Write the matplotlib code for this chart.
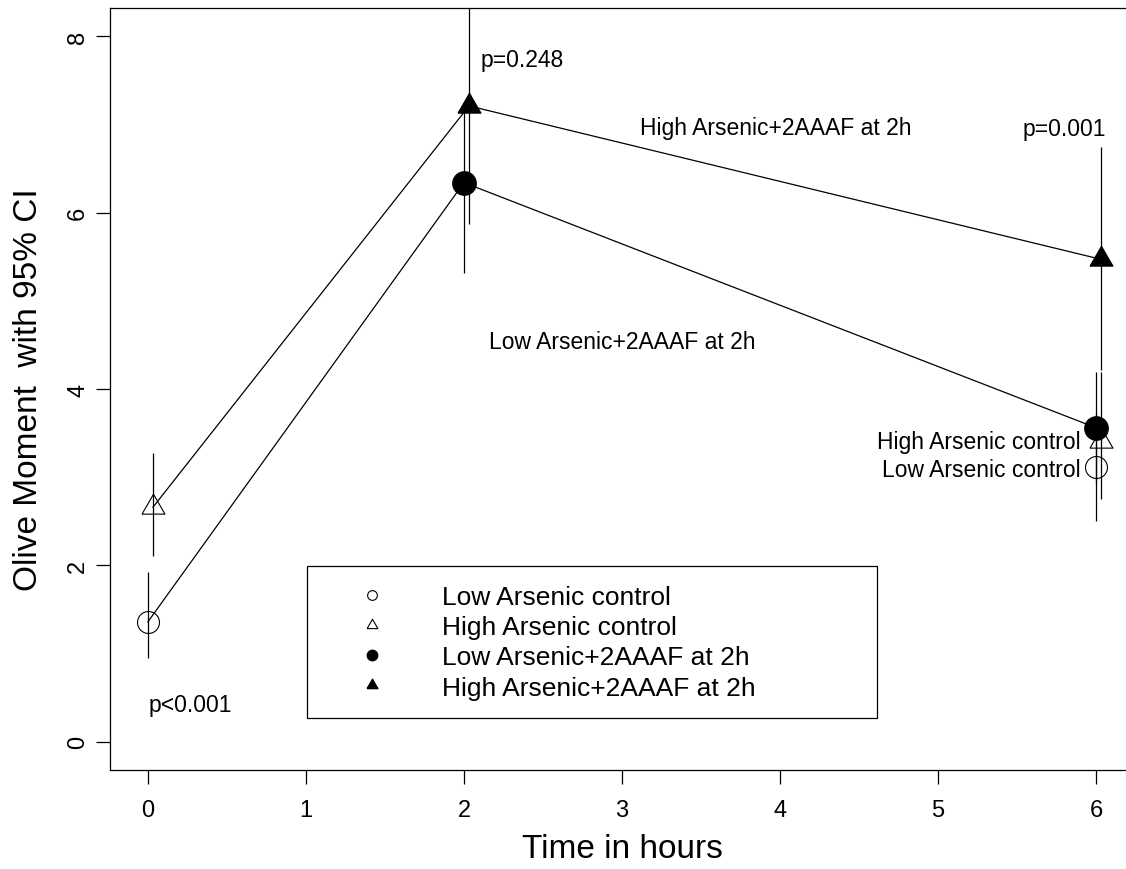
import matplotlib
matplotlib.use("Agg")
import matplotlib.pyplot as plt
from matplotlib.lines import Line2D
from matplotlib.patches import Rectangle

plt.rcParams['font.family'] = ['Liberation Sans', 'DejaVu Sans']

# ---- data ----
time_control = [0, 6]
time_treated = [2, 6]

low_control = [1.36, 3.11]
low_control_lo = [0.95, 2.50]
low_control_hi = [1.93, 3.72]

high_control = [2.66, 3.41]
high_control_lo = [2.11, 2.75]
high_control_hi = [3.27, 4.19]

low_2aaaf = [6.34, 3.56]
low_2aaaf_lo = [5.32, 2.93]
low_2aaaf_hi = [7.15, 4.19]

high_2aaaf = [7.21, 5.47]
high_2aaaf_lo = [5.87, 4.22]
high_2aaaf_hi = [8.55, 6.74]

x_ticks = [0, 1, 2, 3, 4, 5, 6]
y_ticks = [0, 2, 4, 6, 8]
labels = ["Low Arsenic control", "High Arsenic control",
          "Low Arsenic+2AAAF at 2h", "High Arsenic+2AAAF at 2h"]

# ---- style ----
dodge = 0.032
tri = [(-1.0, -0.5774), (1.0, -0.5774), (0.0, 1.1547), (-1.0, -0.5774)]
lw = 0.9

fig = plt.figure(figsize=(11.26, 8.70), dpi=100)
ax = fig.add_axes([110/1126, 1 - 771/870, 1024/1126, 762/870])

# connecting lines
ax.plot([time_control[0]] + time_treated, [low_control[0]] + low_2aaaf,
        color='black', lw=lw, zorder=2)
ax.plot([t + dodge for t in [time_control[0]] + time_treated],
        [high_control[0]] + high_2aaaf, color='black', lw=lw, zorder=2)

# error bars
ax.vlines(time_control, low_control_lo, low_control_hi, color='black', lw=lw, zorder=2)
ax.vlines([t + dodge for t in time_control], high_control_lo, high_control_hi,
          color='black', lw=lw, zorder=2)
ax.vlines(time_treated, low_2aaaf_lo, low_2aaaf_hi, color='black', lw=lw, zorder=2)
ax.vlines([t + dodge for t in time_treated], high_2aaaf_lo, high_2aaaf_hi,
          color='black', lw=lw, zorder=2)

# points
ax.plot(time_control, low_control, ls='none', marker='o', ms=15.8,
        mfc='none', mec='black', mew=0.8, zorder=3)
ax.plot([t + dodge for t in time_control], high_control, ls='none', marker=tri,
        ms=19.1, mfc='none', mec='black', mew=0.8, zorder=3)
ax.plot(time_treated, low_2aaaf, ls='none', marker='o', ms=17.0,
        mfc='black', mec='black', mew=0.8, zorder=3)
ax.plot([t + dodge for t in time_treated], high_2aaaf, ls='none', marker=tri,
        ms=19.1, mfc='black', mec='black', mew=0.8, zorder=3)

# annotations
fs_ann = 16.5
ax.text(0.27, 0.42, "p<0.001", fontsize=fs_ann, ha='center', va='center')
ax.text(2.37, 7.74, "p=0.248", fontsize=fs_ann, ha='center', va='center')
ax.text(5.80, 6.95, "p=0.001", fontsize=fs_ann, ha='center', va='center')
ax.text(3.97, 6.96, "High Arsenic+2AAAF at 2h", fontsize=fs_ann, ha='center', va='center')
ax.text(3.00, 4.54, "Low Arsenic+2AAAF at 2h", fontsize=fs_ann, ha='center', va='center')
ax.text(5.905, 3.41, "High Arsenic control", fontsize=fs_ann, ha='right', va='center')
ax.text(5.905, 3.09, "Low Arsenic control", fontsize=fs_ann, ha='right', va='center')

# axes
ax.set_xlim(-0.24, 6.24)
ax.set_ylim(-0.32, 8.32)
ax.set_xticks(x_ticks)
ax.set_yticks(y_ticks)
ax.tick_params(axis='both', direction='out', length=10, width=0.9, labelsize=17)
ax.tick_params(axis='x', pad=11)
ax.tick_params(axis='y', pad=5)
for lab in ax.get_yticklabels():
    lab.set_rotation(90)
    lab.set_va('center')
for s in ax.spines.values():
    s.set_linewidth(0.9)
ax.spines['right'].set_visible(False)

ax.set_xlabel("Time in hours", fontsize=24, va='center')
ax.xaxis.set_label_coords(0.5, (771 - 850) / 762)
ax.set_ylabel("Olive Moment  with 95% CI", fontsize=24, va='center')
ax.yaxis.set_label_coords((29 - 110) / 1024, 0.5)

# legend
handles = [
    Line2D([], [], ls='none', marker='o', ms=7, mfc='none', mec='black', mew=0.8),
    Line2D([], [], ls='none', marker=tri, ms=9, mfc='none', mec='black', mew=0.8),
    Line2D([], [], ls='none', marker='o', ms=7.5, mfc='black', mec='black'),
    Line2D([], [], ls='none', marker=tri, ms=9, mfc='black', mec='black'),
]
leg = ax.legend(handles, labels, loc='upper left',
                bbox_to_anchor=(345.5/1126, 1 - 586/870), bbox_transform=fig.transFigure,
                frameon=False, fontsize=19, handlelength=2.0, handletextpad=1.64,
                labelspacing=0.235, borderpad=0, borderaxespad=0)
ax.add_patch(Rectangle(((307-110)/1024, (771-719)/762), (877-307)/1024, (719-567)/762,
                       transform=ax.transAxes, fill=False, lw=0.9, ec='black', zorder=5))

fig.savefig("out.png", dpi=100, facecolor='white')
